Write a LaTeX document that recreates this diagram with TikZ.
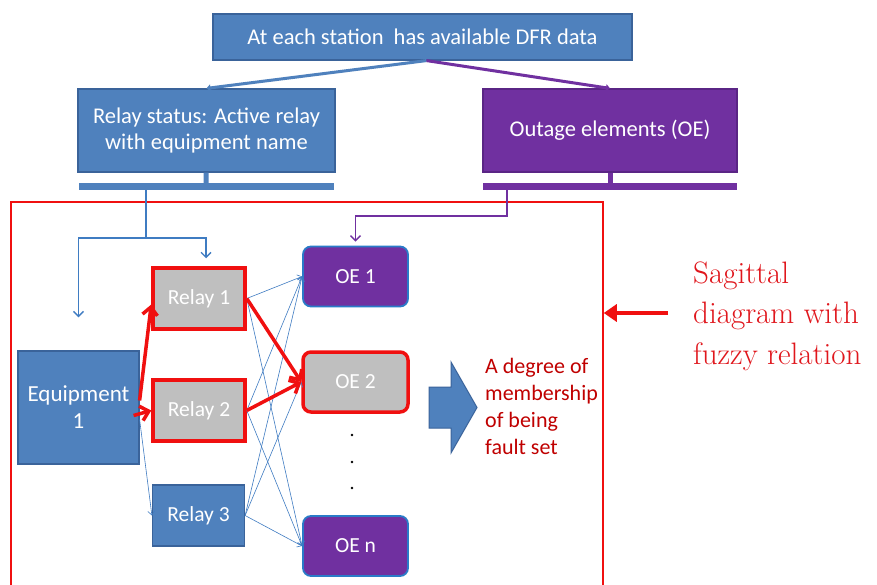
\documentclass[tikz,border=0pt]{standalone}
\usepackage{fontspec}
\newfontfamily\calib{Carlito}
\usetikzlibrary{arrows.meta,positioning}
\definecolor{boxblue}{HTML}{4F81BD}
\definecolor{boxedge}{HTML}{3A639A}
\definecolor{linkblue}{HTML}{3F7CC2}
\definecolor{oepurple}{HTML}{7030A0}
\definecolor{oeedge}{HTML}{5A2585}
\definecolor{oering}{HTML}{2A7BC8}
\definecolor{relaygray}{HTML}{BFBFBF}
\definecolor{hotred}{HTML}{F01010}
\definecolor{textred}{HTML}{C00000}
\definecolor{sagred}{HTML}{E0161C}

\tikzset{
  bluebox/.style={draw=boxedge,line width=1.2pt,fill=boxblue,text=white,inner sep=0pt,align=center,
    font=\calib\fontsize{22.5}{26}\selectfont},
  purplebox/.style={bluebox,draw=oeedge,fill=oepurple},
  relaybox/.style={bluebox,minimum width=92pt,minimum height=61pt,font=\calib\fontsize{21.5}{26}\selectfont},
  hotrelay/.style={relaybox,draw=hotred,line width=3.5pt,fill=relaygray},
  oebox/.style={relaybox,draw=oering,line width=1.8pt,fill=oepurple,rounded corners=8pt,
    minimum width=105pt,minimum height=60pt},
  hotoe/.style={oebox,draw=hotred,line width=3.5pt,fill=relaygray},
  thinlink/.style={linkblue,line width=0.6pt,-{Straight Barb[length=4pt,width=7pt]}},
  hotlink/.style={hotred,line width=3.5pt,-{Straight Barb[length=8pt,width=15pt]}},
}

\begin{document}
\begin{tikzpicture}[x=1pt,y=-1pt]
\useasboundingbox[fill=white](0,0)rectangle(877,585);

\node[bluebox,minimum width=419pt,minimum height=46pt](dfr)at(422.5,37){At each station~ has available DFR data};
\node[bluebox,minimum width=257pt,minimum height=83pt](rstat)at(206.5,130.5){Relay status: Active relay\\with equipment name};
\node[purplebox,minimum width=254pt,minimum height=83pt](outage)at(610,130.5){Outage elements (OE)};
\node[fill=boxblue,minimum width=255pt,minimum height=7pt,inner sep=0pt](rbar)at(206,186.5){};
\node[fill=oepurple,minimum width=254pt,minimum height=7pt,inner sep=0pt](obar)at(610,186.5){};
\draw[boxblue,line width=5pt](rstat)--(rbar);
\draw[oepurple,line width=5pt](outage)--(obar);
\draw[boxblue,line width=3pt,-{Triangle[length=4pt,width=7pt]}]([xshift=4pt]dfr.south)--(rstat.north);
\draw[oepurple,line width=3pt,-{Triangle[length=4pt,width=7pt]}]([xshift=4pt]dfr.south)--(outage.north);

\node[draw=hotred,line width=1.5pt,minimum width=592pt,minimum height=388pt,inner sep=0pt](frame)at(307,396){};

\node[bluebox,minimum width=121pt,minimum height=113pt,font=\calib\fontsize{23}{27}\selectfont](equip)at(78.5,407.5){Equipment\\1};
\node[hotrelay](relay1)at(199,298.5){Relay 1};
\node[hotrelay](relay2)at(199,410.5){Relay 2};
\node[relaybox](relay3)at(198.5,515.5){Relay 3};
\node[oebox](oe1)at(355.5,276.5){OE 1};
\node[hotoe](oe2)at(355.5,382){OE 2};
\node[oebox](oeN)at(355.5,546){OE n};
\foreach \y in {435,462,488} \fill(352,\y)circle(1.3pt);

\coordinate(rsplit)at(146,238);
\coordinate(osplit)at(507,216);
\draw[linkblue,line width=1.4pt](rbar.south -| rsplit)--(rsplit);
\draw[linkblue,line width=1.4pt,shorten >=33pt,-{Straight Barb[length=5pt,width=10pt]}](rsplit)-|(equip.north);
\draw[linkblue,line width=1.4pt,shorten >=8pt,-{Straight Barb[length=5pt,width=10pt]}](rsplit)-|([xshift=7pt]relay1.north);
\draw[oepurple,line width=1.4pt,shorten >=4pt,-{Straight Barb[length=5pt,width=10pt]}](obar.south -| osplit)--(osplit)-|(oe1.north);

\foreach \r in {relay1,relay2,relay3}{
  \draw[thinlink](\r.east)--(oe1.west);
  \draw[thinlink](\r.east)--(oeN.west);
}
\draw[thinlink](relay3.east)--(oe2.west);
\draw[thinlink]([yshift=-12pt]equip.east)--(relay3.west);
\draw[hotlink](relay1.east)--(oe2.west);
\draw[hotlink](relay2.east)--(oe2.west);
\draw[hotlink]([yshift=7pt]equip.east)--([yshift=-6pt]relay1.west);
\draw[hotlink]([xshift=-6pt,yshift=-8pt]equip.east)--(relay2.west);

\draw[fill=boxblue,draw=boxedge,line width=1pt](429,387)--(451,387)--(451,362)--(477,407.5)--(451,453)--(451,428)--(429,428)--cycle;
\node[text=textred,align=left,anchor=west,inner sep=0pt,font=\calib\fontsize{22}{27}\selectfont](memb)at(485,406){A degree of\\membership\\of being\\fault set};

\node[text=sagred,align=left,anchor=west,inner sep=0pt,font=\fontsize{31}{40.5}\selectfont](sagit)at(693,316){Sagittal\\diagram with\\fuzzy relation};
\coordinate(sagtail)at(668,313);
\draw[hotred,line width=4pt,-{Triangle[length=13pt,width=17pt]}](sagtail)--(sagtail -| frame.east);
\end{tikzpicture}
\end{document}
